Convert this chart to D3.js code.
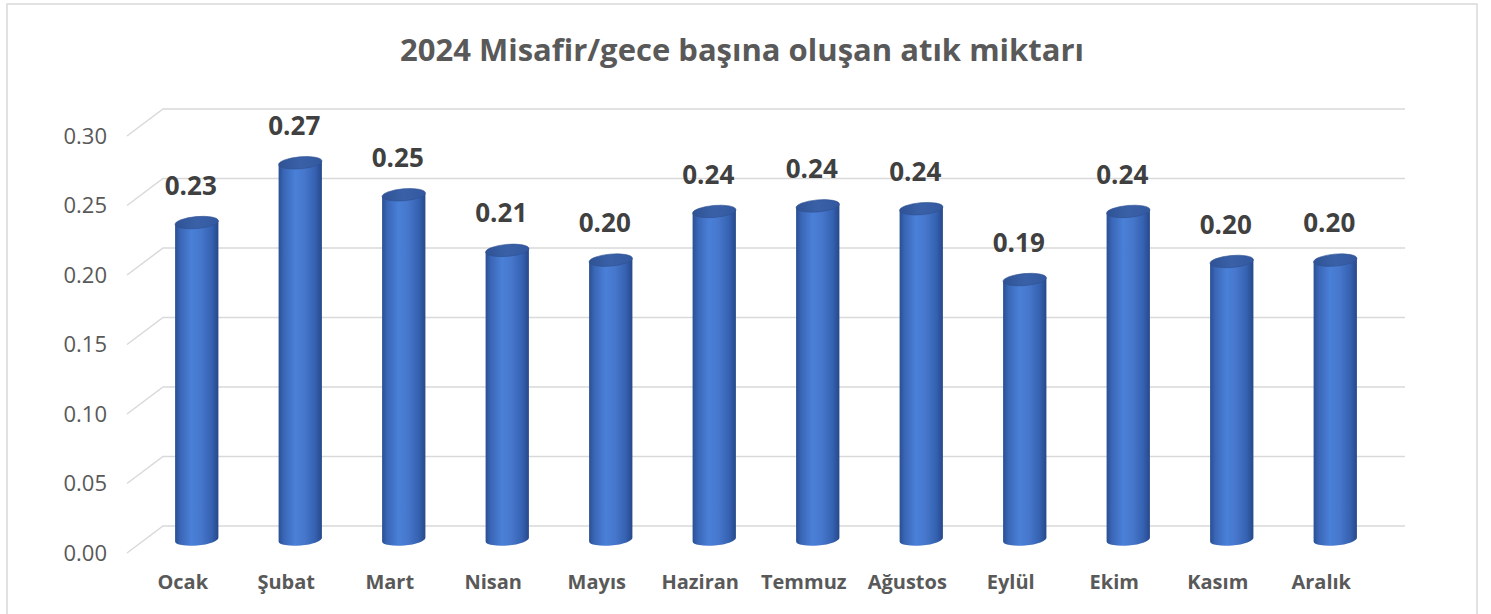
<!DOCTYPE html>
<html>
<head>
<meta charset="utf-8">
<script src="https://cdn.jsdelivr.net/npm/d3@7"></script>
<style>
  body { margin: 0; background: #fff; }
  svg { display: block; font-family: "Open Sans", sans-serif; }
</style>
</head>
<body>
<svg id="chart"></svg>
<script>
// DATA
const months = ["Ocak", "Şubat", "Mart", "Nisan", "Mayıs", "Haziran",
                "Temmuz", "Ağustos", "Eylül", "Ekim", "Kasım", "Aralık"];
const wastePerGuest = [0.228, 0.271, 0.248, 0.208, 0.201, 0.236,
                       0.240, 0.238, 0.187, 0.236, 0.200, 0.201];
const yTicks = [0, 0.05, 0.10, 0.15, 0.20, 0.25, 0.30];
const chartTitle = "2024 Misafir/gece başına oluşan atık miktarı";

const W = 1491, H = 614;
const svg = d3.select("#chart").attr("width", W).attr("height", H);

// outer chart border
svg.append("rect")
    .attr("x", 7).attr("y", 4)
    .attr("width", 1470).attr("height", 640)
    .attr("fill", "none")
    .attr("stroke", "#d9d9d9")
    .attr("stroke-width", 1.5);

// TITLE
svg.append("text")
    .attr("x", 742).attr("y", 61)
    .attr("text-anchor", "middle")
    .attr("font-size", "31px")
    .attr("font-weight", "bold")
    .attr("fill", "#595959")
    .text(chartTitle);

// scales on the back wall, the depth goes left/down
const x = d3.scaleBand().domain(months).range([163, 1405]).padding(0);
const y = d3.scaleLinear().domain([0, 0.30]).range([526, 109]);
const depth = { dx: -36, dy: 27 };   // back wall -> front edge
const mid = { dx: depth.dx / 2, dy: depth.dy / 2 };

// GRID: back wall lines + floor/side diagonals
const grid = svg.append("g").attr("stroke", "#d9d9d9").attr("stroke-width", 1.5).attr("fill", "none");
grid.selectAll("path")
    .data(yTicks)
    .enter()
    .append("path")
    .attr("d", d => `M${163 + depth.dx},${y(d) + depth.dy} L163,${y(d)} L1405,${y(d)}`);

// Y AXIS (labels on the front plane)
const yAxis = svg.append("g")
    .attr("transform", `translate(${163 + depth.dx - 10},${depth.dy})`)
    .call(d3.axisLeft(y).tickValues(yTicks).tickSize(0).tickPadding(10).tickFormat(d3.format(".2f")));
yAxis.select(".domain").remove();
yAxis.selectAll("text")
    .attr("font-family", "Open Sans, sans-serif")
    .attr("font-size", "22px")
    .attr("fill", "#595959");

// CYLINDER GRADIENTS
const defs = svg.append("defs");
const bodyGrad = defs.append("linearGradient").attr("id", "body").attr("x1", 0).attr("x2", 1).attr("y1", 0).attr("y2", 0);
[["0%", "#2a4f92"], ["12%", "#3a66b6"], ["38%", "#4a80d8"], ["60%", "#4677cc"], ["85%", "#3561b0"], ["100%", "#27488a"]]
    .forEach(s => bodyGrad.append("stop").attr("offset", s[0]).attr("stop-color", s[1]));
const topGrad = defs.append("linearGradient").attr("id", "top").attr("x1", 0).attr("x2", 1).attr("y1", 0).attr("y2", 0);
[["0%", "#2f5294"], ["50%", "#3a61a8"], ["100%", "#3358a0"]]
    .forEach(s => topGrad.append("stop").attr("offset", s[0]).attr("stop-color", s[1]));

const rx = x.bandwidth() * 0.21;
const ry = 6;
const tilt = -5;
const sx = rx * Math.cos(tilt * Math.PI / 180);
const sy = rx * Math.sin(tilt * Math.PI / 180);

const data = months.map((m, i) => ({ month: m, value: wastePerGuest[i] }));

const bars = svg.selectAll("g.bar")
    .data(data)
    .enter()
    .append("g")
    .attr("class", "bar");

const cx = d => x(d.month) + x.bandwidth() / 2 + mid.dx;
const yTop = d => y(d.value) + mid.dy;
const yBot = y(0) + mid.dy;

// body
bars.append("path")
    .attr("fill", "url(#body)")
    .attr("d", d => {
        const c = cx(d), t = yTop(d);
        return `M${c - sx},${t - sy} L${c - sx},${yBot - sy}` +
            ` A${rx},${ry} ${tilt} 0 0 ${c + sx},${yBot + sy}` +
            ` L${c + sx},${t + sy} Z`;
    });

// top cap
bars.append("ellipse")
    .attr("cx", d => cx(d))
    .attr("cy", d => yTop(d))
    .attr("rx", rx)
    .attr("ry", ry)
    .attr("transform", d => `rotate(${tilt},${cx(d)},${yTop(d)})`)
    .attr("fill", "url(#top)")
    .attr("stroke", "#2e5192")
    .attr("stroke-width", 0.6);

// value labels
bars.append("text")
    .attr("x", d => cx(d) - 6)
    .attr("y", d => yTop(d) - 37)
    .attr("dy", "0.35em")
    .attr("text-anchor", "middle")
    .attr("font-size", "26px")
    .attr("font-weight", "bold")
    .attr("fill", "#404040")
    .text(d => d3.format(".2f")(d.value));

// category labels on the front edge
svg.selectAll("text.cat")
    .data(months)
    .enter()
    .append("text")
    .attr("class", "cat")
    .attr("x", d => x(d) + x.bandwidth() / 2 + depth.dx + 4)
    .attr("y", 582)
    .attr("dy", "0.35em")
    .attr("text-anchor", "middle")
    .attr("font-size", "20px")
    .attr("font-weight", "bold")
    .attr("fill", "#595959")
    .text(d => d);
</script>
</body>
</html>
